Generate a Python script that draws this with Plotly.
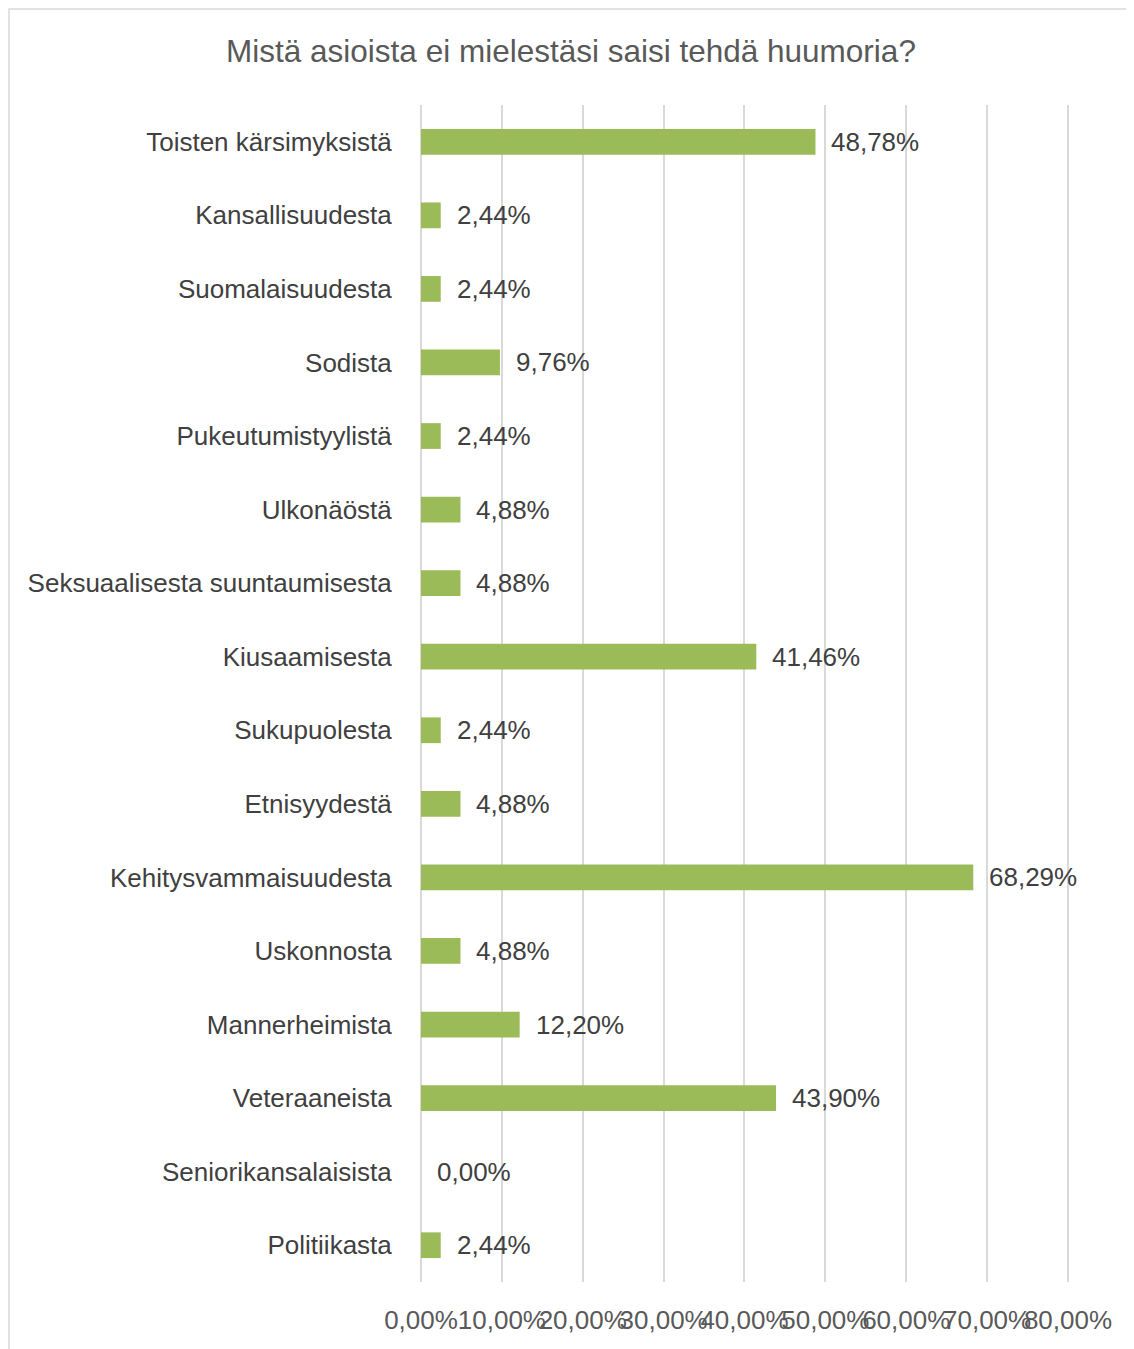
import plotly.graph_objects as go

title = "Mistä asioista ei mielestäsi saisi tehdä huumoria?"
categories = [
    "Toisten kärsimyksistä", "Kansallisuudesta", "Suomalaisuudesta", "Sodista",
    "Pukeutumistyylistä", "Ulkonäöstä", "Seksuaalisesta suuntaumisesta",
    "Kiusaamisesta", "Sukupuolesta", "Etnisyydestä", "Kehitysvammaisuudesta",
    "Uskonnosta", "Mannerheimista", "Veteraaneista", "Seniorikansalaisista",
    "Politiikasta",
]
values = [48.78, 2.44, 2.44, 9.76, 2.44, 4.88, 4.88, 41.46, 2.44, 4.88,
          68.29, 4.88, 12.20, 43.90, 0.00, 2.44]
tick_vals = [0, 10, 20, 30, 40, 50, 60, 70, 80]
tick_text = ["0,00%", "10,00%", "20,00%", "30,00%", "40,00%", "50,00%",
             "60,00%", "70,00%", "80,00%"]

FONT = "Liberation Sans, Arial, sans-serif"
FS = 26
labels = [f"{v:.2f}".replace(".", ",") + "%" for v in values]

fig = go.Figure()
fig.add_trace(go.Bar(
    x=values, y=categories, orientation="h",
    marker=dict(color="#9BBB59", line=dict(width=0)),
    hoverinfo="skip",
))
for v, c, t in zip(values, categories, labels):
    fig.add_annotation(x=v, y=c, text=t, xanchor="left", yanchor="middle",
                       xshift=14, showarrow=False,
                       font=dict(family=FONT, size=FS, color="#404040"))

# page body has an 8px margin; figure sized to fit the window
W, H = 1126, 1341
L, R, T, B = 413, 64, 97, 67
pw, ph = W - L - R, H - T - B
def px_to_paper_x(px): return (px - L) / pw
def px_to_paper_y(py): return (H - B - py) / ph

fig.add_shape(type="rect", xref="paper", yref="paper",
              x0=px_to_paper_x(1), x1=px_to_paper_x(1200),
              y0=px_to_paper_y(1400), y1=px_to_paper_y(1),
              line=dict(color="#D9D9D9", width=1.5), fillcolor="rgba(0,0,0,0)",
              layer="below")

fig.update_layout(
    width=W, height=H,
    margin=dict(l=L, r=R, t=T, b=B, autoexpand=False),
    paper_bgcolor="white", plot_bgcolor="white",
    bargap=0.65,
    showlegend=False,
    title=dict(text=title, x=0.5, xref="container", xanchor="center",
               y=1 - 43 / H, yanchor="middle",
               font=dict(family=FONT, size=31.5, color="#595959")),
    font=dict(family=FONT, color="#404040"),
)
fig.update_xaxes(
    range=[0, 80.25], tickvals=tick_vals, ticktext=tick_text, tickangle=0,
    automargin=False,
    showgrid=True, gridcolor="#D9D9D9", gridwidth=1.5,
    zeroline=True, zerolinecolor="#D9D9D9", zerolinewidth=1.5,
    showline=False, ticks="outside", ticklen=15, tickcolor="rgba(0,0,0,0)",
    tickfont=dict(family=FONT, size=FS, color="#595959"),
    fixedrange=True,
)
fig.update_yaxes(
    autorange="reversed", showgrid=False, showline=False, zeroline=False,
    automargin=False,
    ticks="outside", ticklen=23, tickcolor="rgba(0,0,0,0)",
    tickfont=dict(family=FONT, size=FS, color="#404040"),
    fixedrange=True,
)
fig.write_html("out.html")
